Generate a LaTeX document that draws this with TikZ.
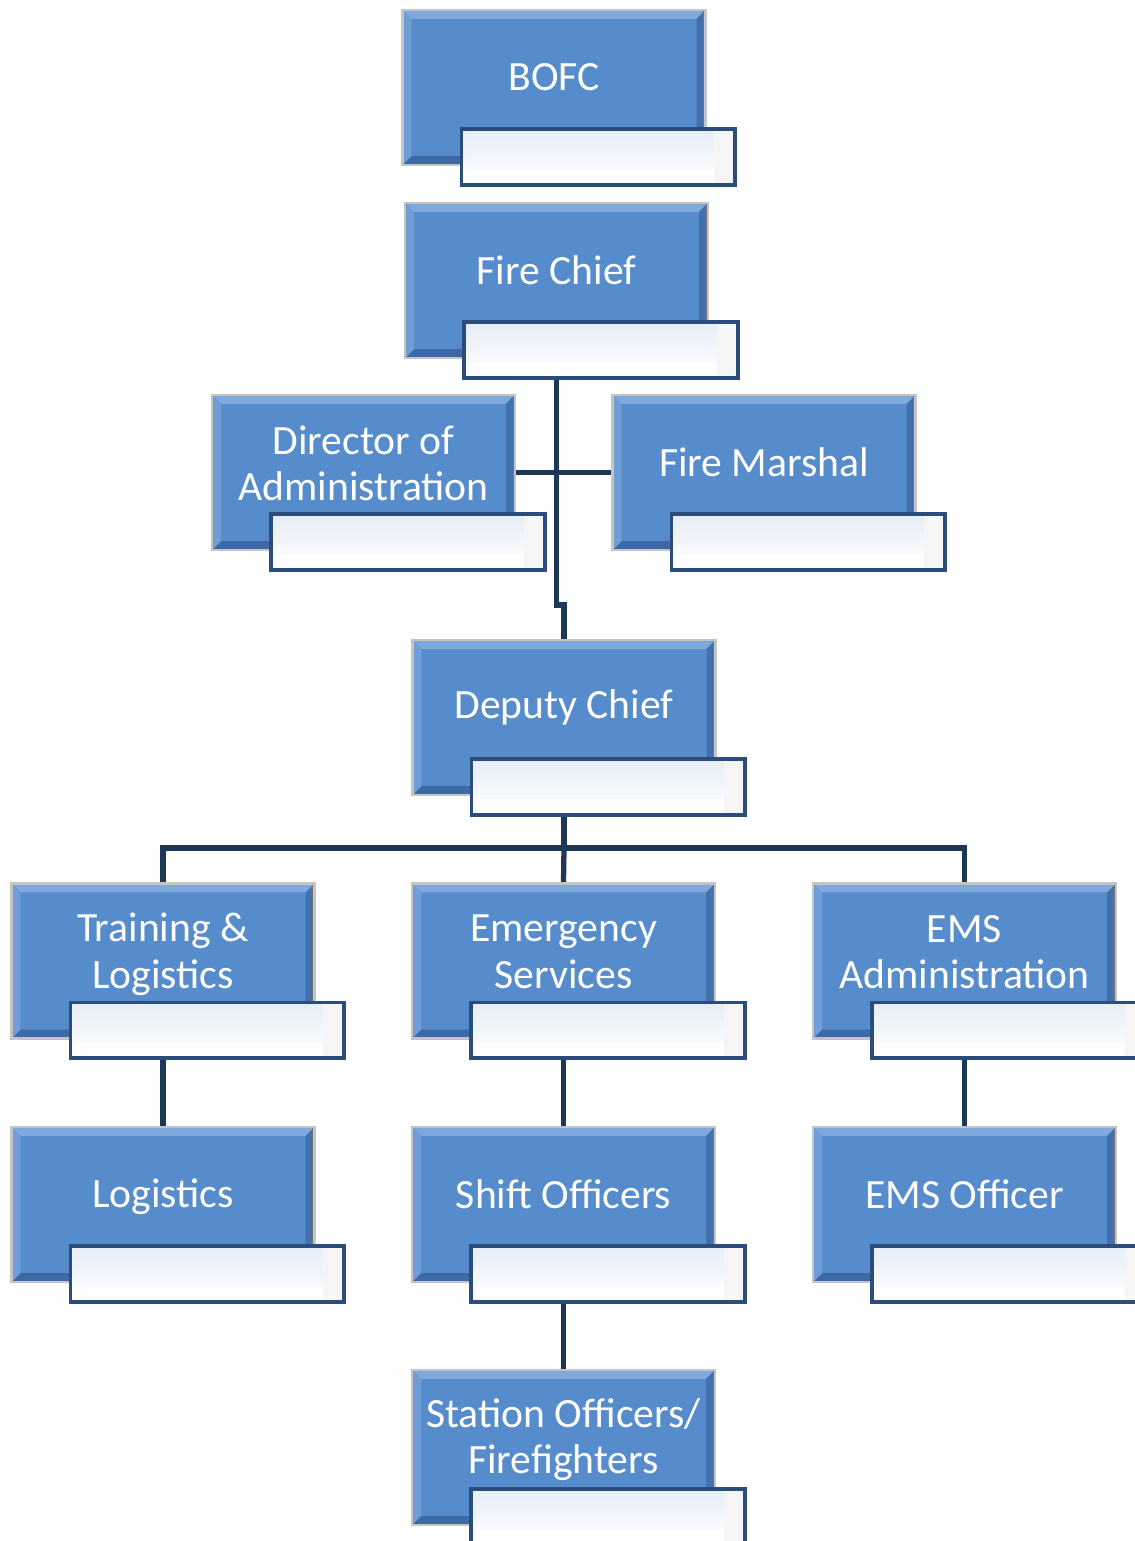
\documentclass[tikz,border=0pt]{standalone}
\usepackage{fontspec}
\setmainfont{Carlito}
\usetikzlibrary{backgrounds}

\definecolor{boxblue}{HTML}{578CCC}
\definecolor{bevellight}{HTML}{7FA8DC}
\definecolor{beveldark}{HTML}{3D6AA5}
\definecolor{rimgrey}{HTML}{C4C4C4}
\definecolor{tabedge}{HTML}{2B4D7C}
\definecolor{tabtop}{HTML}{E6EDF7}
\definecolor{linkcol}{HTML}{1F3756}

\tikzset{
  post/.style={draw=rimgrey, line width=1.5pt, fill=boxblue,
    minimum width=6.06cm, minimum height=3.1cm, inner sep=0pt,
    path picture={
      \fill[bevellight] (path picture bounding box.north west) -- (path picture bounding box.north east)
        -- ([shift={(-5pt,-5pt)}]path picture bounding box.north east) -- ([shift={(5pt,-5pt)}]path picture bounding box.north west) -- cycle;
      \fill[beveldark] (path picture bounding box.south west) -- (path picture bounding box.south east)
        -- ([shift={(-5pt,5pt)}]path picture bounding box.south east) -- ([shift={(5pt,5pt)}]path picture bounding box.south west) -- cycle;
      \fill[beveldark!80!boxblue] (path picture bounding box.north east) -- (path picture bounding box.south east)
        -- ([shift={(-5pt,5pt)}]path picture bounding box.south east) -- ([shift={(-5pt,-5pt)}]path picture bounding box.north east) -- cycle;
      \fill[bevellight!60!boxblue] (path picture bounding box.north west) -- (path picture bounding box.south west)
        -- ([shift={(5pt,5pt)}]path picture bounding box.south west) -- ([shift={(5pt,-5pt)}]path picture bounding box.north west) -- cycle;
      \draw[black!55, line width=2.5pt] (path picture bounding box.north east) -- (path picture bounding box.south east);
    }},
  tab/.style={draw=tabedge, line width=2pt, top color=tabtop, bottom color=white,
    minimum width=5.48cm, minimum height=1.12cm, inner sep=0pt,
    path picture={
      \fill[white] ([yshift=9pt]path picture bounding box.south west) rectangle (path picture bounding box.south east);
      \fill[white!96!black] ([xshift=-12pt]path picture bounding box.north east) rectangle (path picture bounding box.south east);
      \draw[tabedge, line width=2.5pt] (path picture bounding box.north east) -- (path picture bounding box.south east)
        -- (path picture bounding box.south west);
    }},
  title/.style={text=white, font=\fontsize{23.7}{26.5}\selectfont, align=center, inner sep=0pt},
  link/.style={draw=linkcol, line width=3pt},
}

\begin{document}
\begin{tikzpicture}[x=0.02cm, y=-0.02cm]
\useasboundingbox (0,0) rectangle (1135,1541);

% blue posts
\node[post] (bofc) at (554,87.5) {};
\node[post] (fc) at (556.5,280.5) {};
\node[post] (doa) at (363.5,472.5) {};
\node[post] (fm) at (764,472.5) {};
\node[post] (dc) at (564,717.5) {};
\node[post] (tl) at (163,961) {};
\node[post] (es) at (563.5,961) {};
\node[post] (ema) at (964.5,961) {};
\node[post] (lg) at (163,1204.5) {};
\node[post] (so) at (563.5,1204.5) {};
\node[post] (eo) at (964.5,1204.5) {};
\node[post] (sf) at (563.5,1447.5) {};

% name tabs under each post
\node[tab] (bofc-tab) at ([shift={(0.89cm,-1.39cm)}]bofc.center) {};
\node[tab] (fc-tab) at ([shift={(0.89cm,-1.39cm)}]fc.center) {};
\node[tab] (doa-tab) at ([shift={(0.89cm,-1.39cm)}]doa.center) {};
\node[tab] (fm-tab) at ([shift={(0.89cm,-1.39cm)}]fm.center) {};
\node[tab] (dc-tab) at ([shift={(0.89cm,-1.39cm)}]dc.center) {};
\node[tab] (tl-tab) at ([shift={(0.89cm,-1.39cm)}]tl.center) {};
\node[tab] (es-tab) at ([shift={(0.89cm,-1.39cm)}]es.center) {};
\node[tab] (ema-tab) at ([shift={(0.89cm,-1.39cm)}]ema.center) {};
\node[tab] (lg-tab) at ([shift={(0.89cm,-1.39cm)}]lg.center) {};
\node[tab] (so-tab) at ([shift={(0.89cm,-1.39cm)}]so.center) {};
\node[tab] (eo-tab) at ([shift={(0.89cm,-1.39cm)}]eo.center) {};
\node[tab] (sf-tab) at ([shift={(0.89cm,-1.39cm)}]sf.center) {};

% titles
\node[title] (bofc-txt) at ([yshift=0.2cm]bofc.center) {BOFC};
\node[title] (fc-txt) at ([yshift=0.2cm]fc.center) {Fire Chief};
\node[title] (doa-txt) at ([yshift=0.18cm]doa.center) {Director of\\Administration};
\node[title] (fm-txt) at ([yshift=0.2cm]fm.center) {Fire Marshal};
\node[title] (dc-txt) at ([yshift=0.2cm]dc.center) {Deputy Chief};
\node[title] (tl-txt) at ([yshift=0.14cm]tl.center) {Training \&\\Logistics};
\node[title] (es-txt) at ([yshift=0.18cm]es.center) {Emergency\\Services};
\node[title] (ema-txt) at ([yshift=0.18cm]ema.center) {EMS\\Administration};
\node[title] (lg-txt) at ([yshift=0.16cm]lg.center) {Logistics};
\node[title] (so-txt) at ([yshift=0.2cm]so.center) {Shift Officers};
\node[title] (eo-txt) at ([yshift=0.2cm]eo.center) {EMS Officer};
\node[title] (sf-txt) at ([yshift=0.16cm]sf.center) {Station Officers/\\Firefighters};

\coordinate (jog) at (560,605);
\coordinate (bus) at (564,848);

% reporting lines, behind the boxes
\begin{scope}[on background layer]
\path[draw,link] (fc.south) |- (jog) -| (dc.north);
\path[draw,link] (doa.east) -- (fm.west);
\path[draw,link] (dc.south) -- (bus);
\path[draw,link] (tl.north) |- (bus) -| (ema.north);
\path[draw,link] (bus) -- (es.north);
\path[draw,link] (tl.south) -- (lg.north);
\path[draw,link] (es.south) -- (so.north);
\path[draw,link] (ema.south) -- (eo.north);
\path[draw,link] (so.south) -- (sf.north);
\end{scope}
\end{tikzpicture}
\end{document}
